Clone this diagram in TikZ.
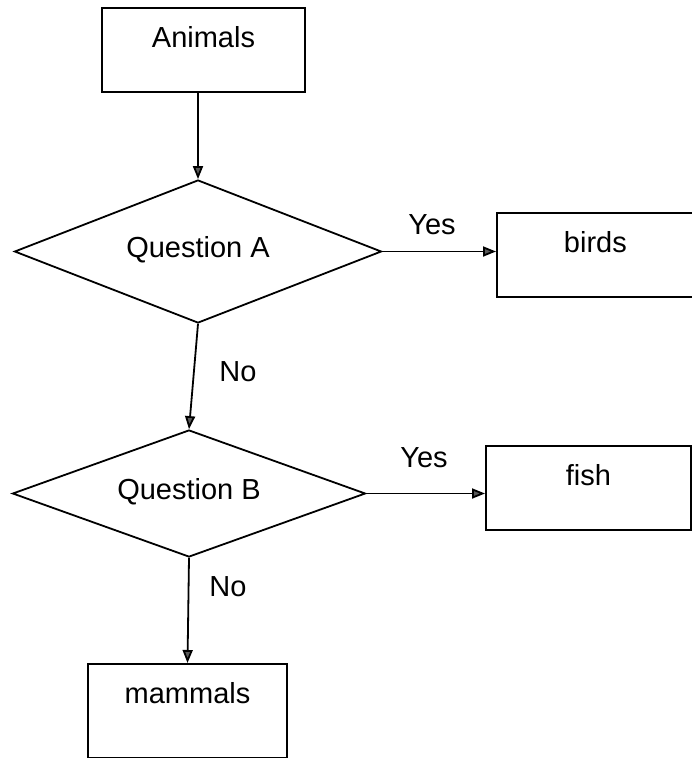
\documentclass[tikz,border=0pt]{standalone}
\usepackage{fontspec}
\setmainfont{Liberation Sans}
\usetikzlibrary{shapes.geometric,arrows.meta}
\tikzset{
  every node/.style={font=\fontsize{29}{34}\selectfont},
  box/.style={draw, line width=1.8pt, rectangle, inner xsep=0pt, inner ysep=0pt, text height=40pt, text depth=44pt},
  decision/.style={draw, line width=1.8pt, diamond, aspect=2.5, inner sep=0pt, text height=24pt, text depth=12pt},
  arr/.style={line width=1.8pt, -{Triangle[length=13pt,width=10pt,fill=gray!70!black]}},
  lbl/.style={inner sep=0pt}
}
\begin{document}
\begin{tikzpicture}[x=1pt,y=-1pt]
\useasboundingbox (0,0) rectangle (692,758);
\node[box, minimum width=203pt, anchor=north] (animals) at (203.5,7) {Animals};
\node[decision, minimum width=367pt, minimum height=143pt] (qa) at (198,251.5) {Question A};
\node[box, minimum width=197pt, anchor=north west] (birds) at (496,212) {birds};
\node[decision, minimum width=353pt, minimum height=127pt] (qb) at (189,493.5) {Question B};
\node[box, minimum width=205pt, anchor=north west] (fish) at (485,445) {fish};
\node[box, minimum width=199pt, text depth=54pt, anchor=north] (mammals) at (187.5,663) {mammals};
\node[lbl] (yesa) at (432,225) {Yes};
\node[lbl] (noa) at (238,372) {No};
\node[lbl] (yesb) at (424,458) {Yes};
\node[lbl] (nob) at (228,587) {No};
\draw[arr] (animals.south -| qa.north) -- (qa.north);
\draw[arr] (qa.east) -- (birds.west |- qa.east);
\draw[arr] (qa.south) -- (qb.north);
\draw[arr] (qb.east) -- (fish.west |- qb.east);
\draw[arr] (qb.south) -- (mammals.north);
\end{tikzpicture}
\end{document}
